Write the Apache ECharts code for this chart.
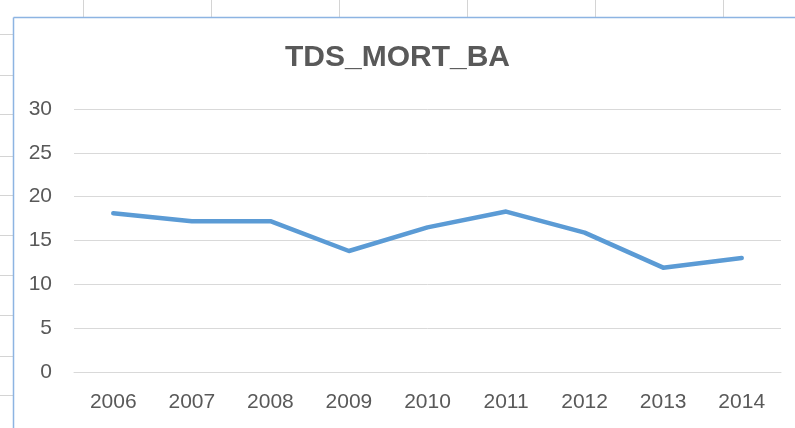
<!DOCTYPE html>
<html>
<head>
<meta charset="utf-8">
<script src="https://cdn.jsdelivr.net/npm/echarts@6/dist/echarts.min.js"></script>
<style>
  html, body { margin: 0; padding: 0; background: #fff; }
  #main { width: 795px; height: 428px; }
</style>
</head>
<body>
<div id="main"></div>
<script>
// data
var years = ['2006', '2007', '2008', '2009', '2010', '2011', '2012', '2013', '2014']
var values = [18.1, 17.2, 17.2, 13.8, 16.5, 18.3, 15.9, 11.9, 13.0]
var yTicks = [0, 5, 10, 15, 20, 25, 30]

// spreadsheet cell lines showing round the chart box
var sheetCols = [83, 211, 339, 467, 595, 723]
var sheetRows = [34, 75, 114, 156, 195, 235, 275, 315, 356, 395]

var font = '"Liberation Sans Narrow", "Liberation Sans", sans-serif'
var gray = '#595959'

var chart = echarts.init(document.getElementById('main'), null, { renderer: 'canvas' })

var deco = []
sheetCols.forEach(function (x) {
  deco.push({ type: 'line', shape: { x1: x + 0.5, y1: 0, x2: x + 0.5, y2: 17 }, style: { stroke: '#d4d4d4', lineWidth: 1 }, z: -1 })
})
sheetRows.forEach(function (y) {
  deco.push({ type: 'line', shape: { x1: 0, y1: y + 0.5, x2: 13, y2: y + 0.5 }, style: { stroke: '#d4d4d4', lineWidth: 1 }, z: -1 })
})
// chart frame edges (top and left)
deco.push({ type: 'line', shape: { x1: 13.5, y1: 17.5, x2: 795, y2: 17.5 }, style: { stroke: '#8db4e2', lineWidth: 1.5 } })
deco.push({ type: 'line', shape: { x1: 13.5, y1: 17.5, x2: 13.5, y2: 428 }, style: { stroke: '#8db4e2', lineWidth: 1.5 } })

var option = {
  backgroundColor: '#fff',
  animation: false,
  title: {
    text: 'TDS_MORT_BA',
    left: 'center',
    top: 38,
    textStyle: {
      fontFamily: font,
      fontSize: 30,
      fontWeight: 'bold',
      color: gray
    }
  },
  grid: {
    left: 74,
    right: 14,
    top: 109,
    bottom: 56,
    containLabel: false
  },
  xAxis: {
    type: 'category',
    data: years,
    boundaryGap: true,
    axisLine: { show: true, lineStyle: { color: '#d9d9d9', width: 1 } },
    axisTick: { show: false },
    axisLabel: {
      margin: 20,
      fontFamily: font,
      fontSize: 21,
      color: gray
    }
  },
  yAxis: {
    type: 'value',
    min: yTicks[0],
    max: yTicks[yTicks.length - 1],
    interval: 5,
    axisLine: { show: false },
    axisTick: { show: false },
    splitLine: { lineStyle: { color: '#d9d9d9', width: 1 } },
    axisLabel: {
      margin: 22,
      fontFamily: font,
      fontSize: 21,
      color: gray
    }
  },
  series: [{
    type: 'line',
    data: values,
    symbol: 'none',
    lineStyle: { color: '#5b9bd5', width: 4.5, cap: 'round', join: 'round' }
  }],
  graphic: deco
}

chart.setOption(option)
</script>
</body>
</html>
